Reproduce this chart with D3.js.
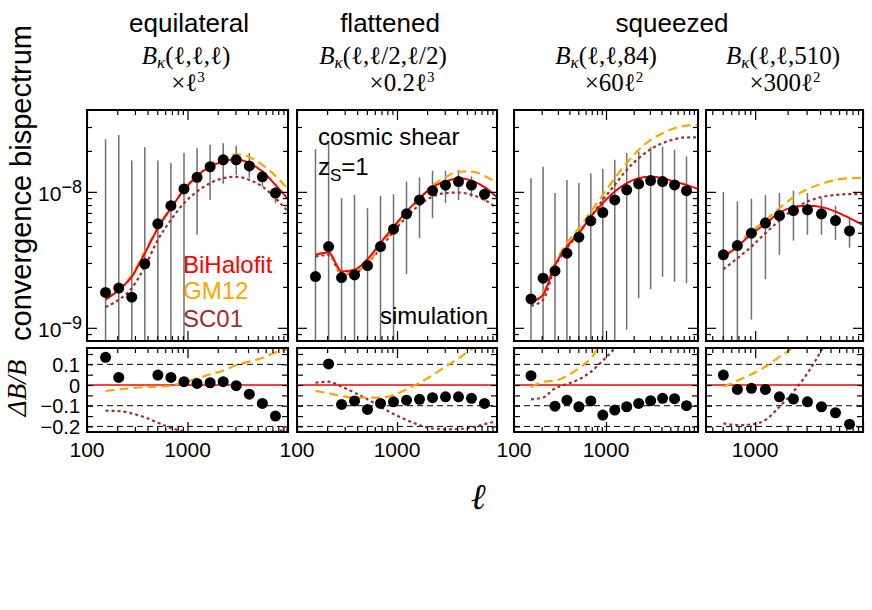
<!DOCTYPE html>
<html>
<head>
<meta charset="utf-8">
<script src="https://cdn.jsdelivr.net/npm/d3@7"></script>
<style>
  body { margin: 0; background: #fff; }
</style>
</head>
<body>
<svg id="chart" width="872" height="610"></svg>
<script>
// multipole bins
const ells = [153, 207, 279, 376, 507, 684, 923, 1245, 1679, 2265, 3055, 4121, 5559, 7499];
const modelElls = [153, 207, 279, 376, 507, 684, 923, 1245, 1679, 2265, 3055, 4121, 5559, 7499, 10000];
const sq510Ells = [507, 684, 923, 1245, 1679, 2265, 3055, 4121, 5559, 7499];
const sq510ModelElls = [507, 684, 923, 1245, 1679, 2265, 3055, 4121, 5559, 7499, 10000];

const shapeNames = ["equilateral", "flattened", "squeezed"];
const argLabels = ["(ℓ,ℓ,ℓ)", "(ℓ,ℓ/2,ℓ/2)", "(ℓ,ℓ,84)", "(ℓ,ℓ,510)"];
const scaleLabels = [["×ℓ", "3"], ["×0.2ℓ", "3"], ["×60ℓ", "2"], ["×300ℓ", "2"]];
const legendNames = ["BiHalofit", "GM12", "SC01"];

// equilateral
const equiSim = [1.82e-9, 1.96e-9, 1.68e-9, 2.96e-9, 5.82e-9, 7.92e-9, 1.05e-8, 1.28e-8, 1.53e-8, 1.72e-8, 1.72e-8, 1.55e-8, 1.29e-8, 9.8e-9];
const equiHi = [2.44e-8, 2.62e-8, 1.70e-8, 2.13e-8, 1.70e-8, 1.63e-8, 1.94e-8, 2.09e-8, 2.22e-8, 2.28e-8, 2.18e-8, 1.93e-8, 1.45e-8, 1.094e-8];
const equiLo = [0, 0, 0, 0, 0, 0, 0, 4.83e-9, 8.73e-9, 1.145e-8, 1.33e-8, 1.27e-8, 1.094e-8, 8.26e-9];
const equiBH = [1.61e-9, 1.90e-9, 2.38e-9, 3.54e-9, 5.41e-9, 7.59e-9, 1.035e-8, 1.31e-8, 1.53e-8, 1.67e-8, 1.74e-8, 1.63e-8, 1.41e-8, 1.125e-8, 8.84e-9];
const equiGM = [1.65e-9, 1.92e-9, 2.45e-9, 3.64e-9, 5.49e-9, 7.71e-9, 1.047e-8, 1.31e-8, 1.58e-8, 1.77e-8, 1.89e-8, 1.80e-8, 1.58e-8, 1.31e-8, 1.047e-8];
const equiSC = [1.42e-9, 1.61e-9, 1.96e-9, 2.82e-9, 4.44e-9, 6.22e-9, 8.26e-9, 1.005e-8, 1.16e-8, 1.26e-8, 1.29e-8, 1.225e-8, 1.094e-8, 8.99e-9, 7.16e-9];
const equiRes = [0.134, 0.037, null, null, 0.048, 0.037, 0.016, 0.008, 0.011, 0.016, -0.003, -0.044, -0.089, -0.150];
const equiResGM = [-0.029, -0.021, -0.015, -0.010, -0.008, -0.003, 0.013, 0.032, 0.052, 0.069, 0.097, 0.113, 0.131, 0.158, 0.172];
const equiResSC = [-0.124, -0.126, -0.137, -0.156, -0.182, -0.207, -0.226, -0.25, -0.265, -0.27, -0.265, -0.252, -0.237, -0.226, -0.214];

// flattened
const flatSim = [2.38e-9, 3.96e-9, 2.34e-9, 2.45e-9, 2.87e-9, 3.96e-9, 5.32e-9, 6.89e-9, 8.73e-9, 1.02e-8, 1.12e-8, 1.19e-8, 1.12e-8, 9.62e-9];
const flatHi = [2.06e-8, 2.28e-8, 8.99e-9, 9.5e-9, 7.59e-9, 9.35e-9, 9.62e-9, 1.19e-8, 1.28e-8, 1.43e-8, 1.43e-8, 1.45e-8, 1.30e-8, 1.09e-8];
const flatLo = [0, 0, 0, 0, 0, 0, 0, 2.49e-9, 4.57e-9, 6.4e-9, 8.3e-9, 8.7e-9, 9.2e-9, 8.5e-9];
const flatBH = [3.44e-9, 3.58e-9, 2.60e-9, 2.67e-9, 3.20e-9, 4.20e-9, 5.56e-9, 7.16e-9, 8.99e-9, 1.083e-8, 1.19e-8, 1.26e-8, 1.21e-8, 1.083e-8, 9.14e-9];
const flatGM = [3.50e-9, 3.50e-9, 2.52e-9, 2.55e-9, 3.02e-9, 3.96e-9, 5.41e-9, 6.97e-9, 8.84e-9, 1.107e-8, 1.28e-8, 1.41e-8, 1.41e-8, 1.31e-8, 1.16e-8];
const flatSC = [3.34e-9, 3.44e-9, 2.49e-9, 2.52e-9, 2.99e-9, 3.85e-9, 5.11e-9, 6.52e-9, 8.02e-9, 9.23e-9, 9.8e-9, 9.89e-9, 9.5e-9, 8.73e-9, 7.59e-9];
const flatRes = [null, 0.102, -0.094, -0.077, -0.118, -0.089, -0.081, -0.073, -0.069, -0.061, -0.057, -0.057, -0.064, -0.089];
const flatResGM = [-0.028, -0.040, -0.053, -0.061, -0.061, -0.061, -0.048, -0.021, 0.011, 0.048, 0.089, 0.129, 0.173, 0.22, 0.26];
const flatResSC = [0.011, 0.016, -0.008, -0.037, -0.069, -0.105, -0.140, -0.169, -0.194, -0.210, -0.214, -0.212, -0.205, -0.189, -0.174];

// squeezed, third side 84
const sq84Sim = [1.63e-9, 2.32e-9, 2.62e-9, 3.54e-9, 4.64e-9, 6.12e-9, 7.05e-9, 8.73e-9, 1.035e-8, 1.145e-8, 1.21e-8, 1.19e-8, 1.125e-8, 1.02e-8];
const sq84Hi = [1.26e-8, 1.53e-8, 9.8e-9, 1.22e-8, 1.16e-8, 1.37e-8, 1.47e-8, 1.72e-8, 1.93e-8, 1.98e-8, 2.15e-8, 2.15e-8, 2.04e-8, 1.82e-8];
const sq84Lo = [0, 0, 0, 0, 0, 0, 0, 0, 9.7e-10, 1.65e-9, 1.92e-9, 2.38e-9, 2.19e-9, 2.13e-9];
const sq84BH = [1.545e-9, 1.75e-9, 2.90e-9, 3.96e-9, 4.97e-9, 6.58e-9, 8.26e-9, 1.005e-8, 1.16e-8, 1.26e-8, 1.29e-8, 1.26e-8, 1.19e-8, 1.125e-8, 1.047e-8];
const sq84GM = [1.56e-9, 1.80e-9, 2.99e-9, 4.20e-9, 5.41e-9, 7.16e-9, 9.5e-9, 1.26e-8, 1.63e-8, 2.04e-8, 2.41e-8, 2.70e-8, 2.94e-8, 3.07e-8, 3.11e-8];
const sq84SC = [1.45e-9, 1.61e-9, 2.82e-9, 3.85e-9, 4.97e-9, 6.58e-9, 8.73e-9, 1.125e-8, 1.45e-8, 1.77e-8, 2.06e-8, 2.28e-8, 2.44e-8, 2.52e-8, 2.52e-8];
const sq84Res = [0.045, null, -0.102, -0.073, -0.105, -0.077, -0.145, -0.121, -0.105, -0.089, -0.076, -0.064, -0.066, -0.100];
const sq84ResGM = [-0.011, 0.016, 0.021, 0.044, 0.081, 0.129, 0.21, 0.25, 0.41, 0.62, 0.87, 1.14, 1.47, 1.73, 1.97];
const sq84ResSC = [-0.069, -0.060, -0.016, 0.005, 0.027, 0.064, 0.118, 0.178, 0.25, 0.40, 0.60, 0.81, 1.05, 1.24, 1.41];

// squeezed, third side 510
const sq510Sim = [3.44e-9, 4.03e-9, 4.97e-9, 5.89e-9, 6.70e-9, 7.28e-9, 7.38e-9, 6.89e-9, 6.15e-9, 5.16e-9];
const sq510Hi = [1.0e-8, 8.5e-9, 8.9e-9, 9.5e-9, 9.8e-9, 1.02e-8, 9.8e-9, 8.9e-9, 7.9e-9, 6.4e-9];
const sq510Lo = [0, 0, 1.15e-9, 2.28e-9, 3.44e-9, 4.38e-9, 4.83e-9, 4.83e-9, 4.44e-9, 3.89e-9];
const sq510BH = [3.29e-9, 3.96e-9, 4.91e-9, 5.82e-9, 7.05e-9, 7.72e-9, 7.89e-9, 7.72e-9, 7.16e-9, 6.41e-9, 5.71e-9];
const sq510GM = [3.34e-9, 4.15e-9, 5.11e-9, 6.22e-9, 7.59e-9, 9.14e-9, 1.047e-8, 1.145e-8, 1.225e-8, 1.26e-8, 1.27e-8];
const sq510SC = [2.70e-9, 3.25e-9, 3.96e-9, 4.97e-9, 6.15e-9, 7.46e-9, 8.49e-9, 9.14e-9, 9.5e-9, 9.62e-9, 9.62e-9];
const sq510Res = [0.048, -0.021, -0.016, -0.021, -0.057, -0.068, -0.081, -0.105, -0.134, -0.189];
const sq510ResGM = [-0.008, 0.021, 0.052, 0.089, 0.137, 0.19, 0.33, 0.48, 0.71, 0.97, 1.22];
const sq510ResSC = [-0.185, -0.194, -0.190, -0.169, -0.105, -0.032, 0.057, 0.169, 0.31, 0.50, 0.68];

const COLORS = { bh: "#ff0000", gm: "#ffa500", sc: "#a52a2a", err: "#707070" };
const SANS = '"Liberation Sans", Arial, Helvetica, sans-serif';
const SERIF = '"Liberation Serif", "DejaVu Serif", "Times New Roman", serif';

const topBox = [110, 341];
const botBox = [348, 432];

const panels = [
  { left: 87, right: 288, xDomain: [100, 10000], xLabels: [100, 1000],
    ells: ells, modelElls: modelElls, sim: equiSim, hi: equiHi, lo: equiLo, bh: equiBH, gm: equiGM, sc: equiSC,
    res: equiRes, resGM: equiResGM, resSC: equiResSC },
  { left: 297, right: 497, xDomain: [100, 10000], xLabels: [100, 1000],
    ells: ells, modelElls: modelElls, sim: flatSim, hi: flatHi, lo: flatLo, bh: flatBH, gm: flatGM, sc: flatSC,
    res: flatRes, resGM: flatResGM, resSC: flatResSC },
  { left: 514, right: 698, xDomain: [100, 10000], xLabels: [100, 1000],
    ells: ells, modelElls: modelElls, sim: sq84Sim, hi: sq84Hi, lo: sq84Lo, bh: sq84BH, gm: sq84GM, sc: sq84SC,
    res: sq84Res, resGM: sq84ResGM, resSC: sq84ResSC },
  { left: 706, right: 863, xDomain: [350, 10000], xLabels: [1000],
    ells: sq510Ells, modelElls: sq510ModelElls, sim: sq510Sim, hi: sq510Hi, lo: sq510Lo, bh: sq510BH, gm: sq510GM, sc: sq510SC,
    res: sq510Res, resGM: sq510ResGM, resSC: sq510ResSC }
];

const svg = d3.select("#chart").attr("font-family", SANS);
const defs = svg.append("defs");

const yTop = d3.scaleLog().domain([8e-10, 4e-8]).range([topBox[1], topBox[0]]);
const yBot = d3.scaleLinear().domain([-0.227, 0.179]).range([botBox[1], botBox[0]]);

function addTicks(g, axisFn, scale, values, size, transform) {
  const a = g.append("g").attr("transform", transform)
    .call(axisFn(scale).tickValues(values).tickSize(-size).tickFormat(""));
  a.select(".domain").remove();
  a.selectAll(".tick line").attr("stroke", "#000").attr("stroke-width", 1.2);
}

function logTicks(dom) {
  const major = [], minor = [];
  for (const d of [100, 1000, 10000]) {
    for (let m = 1; m <= 9; m++) {
      const v = d * m;
      if (v < dom[0] || v > dom[1]) continue;
      (m === 1 ? major : minor).push(v);
    }
  }
  return { major, minor };
}

const yTopMajor = [1e-9, 1e-8];
const yTopMinor = [9e-10, 2e-9, 3e-9, 4e-9, 5e-9, 6e-9, 7e-9, 8e-9, 9e-9, 2e-8, 3e-8];
const yBotTicks = [-0.2, -0.15, -0.1, -0.05, 0, 0.05, 0.1, 0.15];

panels.forEach((p, i) => {
  const x = d3.scaleLog().domain(p.xDomain).range([p.left, p.right]);
  const w = p.right - p.left;

  // clip regions
  defs.append("clipPath").attr("id", "ct" + i).append("rect")
    .attr("x", p.left).attr("y", topBox[0]).attr("width", w).attr("height", topBox[1] - topBox[0]);
  defs.append("clipPath").attr("id", "cb" + i).append("rect")
    .attr("x", p.left).attr("y", botBox[0]).attr("width", w).attr("height", botBox[1] - botBox[0]);

  // ---- top panel
  const gt = svg.append("g").attr("clip-path", `url(#ct${i})`);
  gt.selectAll("line.err").data(p.ells.map((l, k) => [l, p.lo[k], p.hi[k]]))
    .enter().append("line")
    .attr("x1", d => x(d[0])).attr("x2", d => x(d[0]))
    .attr("y1", d => yTop(Math.max(d[1], yTop.domain()[0])))
    .attr("y2", d => yTop(d[2]))
    .attr("stroke", COLORS.err).attr("stroke-width", 1.5);

  const line = d3.line().curve(d3.curveMonotoneX).x(d => x(d[0])).y(d => yTop(d[1]));
  gt.append("path").datum(d3.zip(p.modelElls, p.sc)).attr("d", line)
    .attr("fill", "none").attr("stroke", COLORS.sc).attr("stroke-width", 2.2).attr("stroke-dasharray", "3,3");
  gt.append("path").datum(d3.zip(p.modelElls, p.gm)).attr("d", line)
    .attr("fill", "none").attr("stroke", COLORS.gm).attr("stroke-width", 2.2).attr("stroke-dasharray", "9,5");
  gt.append("path").datum(d3.zip(p.modelElls, p.bh)).attr("d", line)
    .attr("fill", "none").attr("stroke", COLORS.bh).attr("stroke-width", 2);

  gt.selectAll("circle").data(d3.zip(p.ells, p.sim)).enter().append("circle")
    .attr("cx", d => x(d[0])).attr("cy", d => yTop(d[1])).attr("r", 5.5).attr("fill", "#000");

  // ---- ratio panel
  const gb = svg.append("g").attr("clip-path", `url(#cb${i})`);
  gb.selectAll("line.ref").data([0.1, -0.1, -0.2]).enter().append("line")
    .attr("x1", p.left).attr("x2", p.right)
    .attr("y1", d => yBot(d)).attr("y2", d => yBot(d))
    .attr("stroke", "#000").attr("stroke-width", 1).attr("stroke-dasharray", "6,4");
  gb.append("line").attr("x1", p.left).attr("x2", p.right)
    .attr("y1", yBot(0)).attr("y2", yBot(0))
    .attr("stroke", COLORS.bh).attr("stroke-width", 1.5);

  const rline = d3.line().curve(d3.curveMonotoneX).x(d => x(d[0])).y(d => yBot(d[1]));
  gb.append("path").datum(d3.zip(p.modelElls, p.resSC)).attr("d", rline)
    .attr("fill", "none").attr("stroke", COLORS.sc).attr("stroke-width", 2.2).attr("stroke-dasharray", "3,3");
  gb.append("path").datum(d3.zip(p.modelElls, p.resGM)).attr("d", rline)
    .attr("fill", "none").attr("stroke", COLORS.gm).attr("stroke-width", 2.2).attr("stroke-dasharray", "9,5");

  gb.selectAll("circle").data(d3.zip(p.ells, p.res).filter(d => d[1] !== null)).enter().append("circle")
    .attr("cx", d => x(d[0])).attr("cy", d => yBot(d[1])).attr("r", 5.5).attr("fill", "#000");

  // ---- ticks
  const xt = logTicks(p.xDomain);
  const gx = svg.append("g");
  for (const box of [topBox, botBox]) {
    addTicks(gx, d3.axisBottom, x, xt.major, 10, `translate(0,${box[1]})`);
    addTicks(gx, d3.axisBottom, x, xt.minor, 5, `translate(0,${box[1]})`);
    addTicks(gx, d3.axisTop, x, xt.major, 10, `translate(0,${box[0]})`);
    addTicks(gx, d3.axisTop, x, xt.minor, 5, `translate(0,${box[0]})`);
  }
  addTicks(gx, d3.axisLeft, yTop, yTopMajor, 10, `translate(${p.left},0)`);
  addTicks(gx, d3.axisLeft, yTop, yTopMinor, 5, `translate(${p.left},0)`);
  addTicks(gx, d3.axisRight, yTop, yTopMajor, 10, `translate(${p.right},0)`);
  addTicks(gx, d3.axisRight, yTop, yTopMinor, 5, `translate(${p.right},0)`);
  addTicks(gx, d3.axisLeft, yBot, yBotTicks, 6, `translate(${p.left},0)`);
  addTicks(gx, d3.axisRight, yBot, yBotTicks, 6, `translate(${p.right},0)`);

  // frames
  for (const box of [topBox, botBox]) {
    svg.append("rect").attr("x", p.left).attr("y", box[0])
      .attr("width", w).attr("height", box[1] - box[0])
      .attr("fill", "none").attr("stroke", "#000").attr("stroke-width", 2);
  }

  // x tick labels
  svg.append("g").selectAll("text").data(p.xLabels).enter().append("text")
    .attr("x", d => x(d)).attr("y", 457).attr("text-anchor", "middle")
    .attr("font-size", 21).text(d => d);
});

// y tick labels, top
const yLab = svg.append("g");
yTopMajor.forEach(v => {
  const t = yLab.append("text").attr("x", 82).attr("y", yTop(v) + 9)
    .attr("text-anchor", "end").attr("font-size", 21);
  t.append("tspan").text("10");
  t.append("tspan").attr("dy", -8).attr("font-size", 18).text("−" + Math.round(-Math.log10(v)));
});
// y tick labels, ratio
[0.1, 0, -0.1, -0.2].forEach(v => {
  yLab.append("text").attr("x", 80).attr("y", yBot(v) + 7.5)
    .attr("text-anchor", "end").attr("font-size", 20)
    .text(v === 0 ? "0" : d3.format(".1f")(v).replace("-", "−"));
});

// axis titles
svg.append("text").attr("transform", "translate(31,341) rotate(-90)")
  .attr("font-size", 29).text("convergence bispectrum");
svg.append("text").attr("transform", "translate(26,388) rotate(-90)")
  .attr("text-anchor", "middle").attr("font-family", SERIF).attr("font-style", "italic")
  .attr("font-size", 27).text("ΔB/B");
svg.append("text").attr("x", 478).attr("y", 509).attr("text-anchor", "middle")
  .attr("font-family", SERIF).attr("font-style", "italic").attr("font-size", 36).text("ℓ");

// column titles
const titlePos = [189, 390, 672];
shapeNames.forEach((s, k) => {
  svg.append("text").attr("x", titlePos[k]).attr("y", 32).attr("text-anchor", "middle")
    .attr("font-size", 26).text(s);
});
const argPos = [186, 383, 606, 783];
const scalePos = [188, 402, 614, 785];
argLabels.forEach((a, k) => {
  const t = svg.append("text").attr("x", argPos[k]).attr("y", 64).attr("text-anchor", "middle")
    .attr("font-family", SERIF).attr("font-size", 25);
  t.append("tspan").attr("font-style", "italic").text("B");
  t.append("tspan").attr("font-style", "italic").attr("font-size", 17).attr("dy", 4).text("κ");
  t.append("tspan").attr("dy", -4).text(a);
  const u = svg.append("text").attr("x", scalePos[k]).attr("y", 91).attr("text-anchor", "middle")
    .attr("font-family", SERIF).attr("font-size", 25);
  u.append("tspan").text(scaleLabels[k][0]);
  u.append("tspan").attr("font-size", 15).attr("dy", -9).text(scaleLabels[k][1]);
});

// legend in the first panel
const legColors = [COLORS.bh, COLORS.gm, COLORS.sc];
const legY = [273, 299, 327];
legendNames.forEach((n, k) => {
  svg.append("text").attr("x", 183).attr("y", legY[k]).attr("font-size", 24)
    .attr("fill", legColors[k]).text(n);
});

// annotations in the second panel
svg.append("text").attr("x", 318).attr("y", 145).attr("font-size", 24).text("cosmic shear");
const zs = svg.append("text").attr("x", 318).attr("y", 175).attr("font-size", 24);
zs.append("tspan").text("z");
zs.append("tspan").attr("font-size", 17).attr("dy", 6).text("S");
zs.append("tspan").attr("dy", -6).text("=1");
svg.append("text").attr("x", 488).attr("y", 324).attr("text-anchor", "end")
  .attr("font-size", 24).text("simulation");
</script>
</body>
</html>
